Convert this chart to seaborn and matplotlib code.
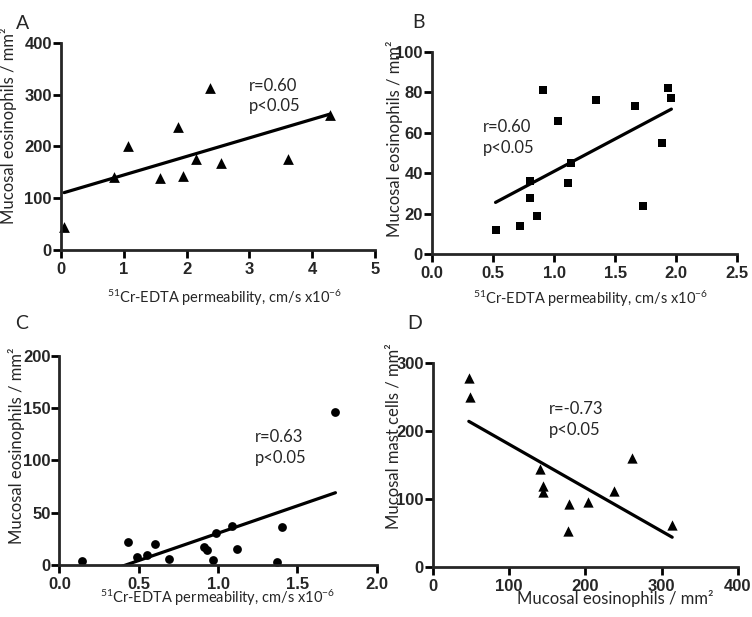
import numpy as np
import pandas as pd
import matplotlib
matplotlib.use("Agg")
import matplotlib.pyplot as plt
import seaborn as sns

# values
# A: permeability vs mucosal eosinophils (triangles)
a_perm = [0.05, 0.85, 1.06, 1.57, 1.87, 1.95, 2.15, 2.37, 2.54, 3.62, 4.28]
a_eos = [45, 141, 201, 138, 237, 143, 175, 313, 168, 176, 260]

# B: permeability vs mucosal eosinophils (squares)
b_perm = [0.52, 0.72, 0.80, 0.80, 0.86, 0.91, 1.03, 1.11, 1.14,
          1.34, 1.66, 1.73, 1.88, 1.93, 1.96]
b_eos = [12, 14, 36, 28, 19, 81, 66, 35, 45, 76, 73, 24, 55, 82, 77]

# C: permeability vs mucosal eosinophils (circles)
c_perm = [0.14, 0.43, 0.49, 0.55, 0.60, 0.69, 0.91, 0.93, 0.97, 0.99,
          1.09, 1.12, 1.37, 1.40, 1.74]
c_eos = [4, 22, 8, 10, 20, 6, 17, 14, 5, 31, 37, 15, 3, 36, 146]

# D: mucosal eosinophils vs mucosal mast cells (triangles)
d_eos = [47, 49, 141, 144, 145, 177, 178, 203, 238, 261, 314]
d_mast = [278, 250, 144, 119, 110, 52, 92, 96, 111, 161, 62]

stats_text = [("r=0.60", "p<0.05"), ("r=0.60", "p<0.05"),
              ("r=0.63", "p<0.05"), ("r=-0.73", "p<0.05")]

perm_label = r"$\mathregular{^{51}}$Cr-EDTA permeability, cm/s x10$\mathregular{^{-6}}$"
eos_label = "Mucosal eosinophils / mm²"
mast_label = "Mucosal mast cells / mm²"

sns.set_style("ticks")
# tick labels take the global default: bold Arial-like
plt.rcParams["font.family"] = ["Liberation Sans", "DejaVu Sans"]
plt.rcParams["font.weight"] = "bold"
plt.rcParams["xtick.labelsize"] = 12
plt.rcParams["ytick.labelsize"] = 12
plt.rcParams["mathtext.fontset"] = "custom"
plt.rcParams["mathtext.rm"] = "Lato"
plt.rcParams["axes.linewidth"] = 2.0

# everything else is in a Calibri-like regular face
txt_font = dict(fontfamily=["Lato", "DejaVu Sans"], fontweight="normal")

fig = plt.figure(figsize=(7.52, 6.17), dpi=100)

panels = [
    dict(letter="A", x=a_perm, y=a_eos, marker="^", s=60,
         rect=[0.0811, 0.5948, 0.4176, 0.336], xlim=(0, 5), xticks=np.arange(0, 6, 1),
         ylim=(0, 400), yticks=np.arange(0, 401, 100), xfmt="{:.0f}",
         txt=(2.99, 317, 277), xlabel=perm_label, ylabel=eos_label, xfs=10.5,
         xl=(0.522, -0.23), yl=(-0.166, 0.598), lpos=(0.030, 0.975)),
    dict(letter="B", x=b_perm, y=b_eos, marker="s", s=40,
         rect=[0.5745, 0.5878, 0.406, 0.3284], xlim=(0, 2.5), xticks=np.arange(0, 2.51, 0.5),
         ylim=(0, 100), yticks=np.arange(0, 101, 20), xfmt="{:.1f}",
         txt=(0.42, 62.7, 52.3), xlabel=perm_label, ylabel=eos_label, xfs=10.5,
         xl=(0.518, -0.22), yl=(-0.124, 0.569), lpos=(0.557, 0.978)),
    dict(letter="C", x=c_perm, y=c_eos, marker="o", s=40,
         rect=[0.0791, 0.0843, 0.4218, 0.3387], xlim=(0, 2.0), xticks=np.arange(0, 2.01, 0.5),
         ylim=(0, 200), yticks=np.arange(0, 201, 50), xfmt="{:.1f}",
         txt=(1.233, 122.8, 102.7), xlabel=perm_label, ylabel=eos_label, xfs=10.5,
         xl=(0.497, -0.158), yl=(-0.134, 0.569), lpos=(0.029, 0.489)),
    dict(letter="D", x=d_eos, y=d_mast, marker="^", s=55,
         rect=[0.5758, 0.0815, 0.4052, 0.3297], xlim=(0, 400), xticks=np.arange(0, 401, 100),
         ylim=(0, 300), yticks=np.arange(0, 301, 100), xfmt="{:.0f}",
         txt=(152, 232.6, 201.6), xlabel=eos_label, ylabel=mast_label, xfs=12,
         xl=(0.597, -0.155), yl=(-0.128, 0.643), lpos=(0.552, 0.489)),
]

for p, (r_txt, p_txt) in zip(panels, stats_text):
    ax = fig.add_axes(p["rect"])
    df = pd.DataFrame({"x": p["x"], "y": p["y"]})
    sns.regplot(data=df, x="x", y="y", ax=ax, ci=None, truncate=True,
                marker=p["marker"], color="black",
                scatter_kws=dict(s=p["s"], linewidths=0, clip_on=False, alpha=1),
                line_kws=dict(linewidth=2.3, color="black"))
    ax.set_xlim(p["xlim"])
    ax.set_ylim(p["ylim"])
    ax.tick_params(direction="out", length=5.5, width=2.0, color="black")
    ax.tick_params(axis="y", pad=1)
    ax.tick_params(axis="x", pad=3)
    ax.set_xticks(p["xticks"], labels=[p["xfmt"].format(v) for v in p["xticks"]])
    ax.set_yticks(p["yticks"], labels=[f"{v:.0f}" for v in p["yticks"]])
    sns.despine(ax=ax)
    for sp in ["left", "bottom"]:
        ax.spines[sp].set_linewidth(2.0)

    ax.set_xlabel(p["xlabel"], fontsize=p["xfs"], va="center", **txt_font)
    ax.set_ylabel(p["ylabel"], fontsize=12, va="center", **txt_font)
    ax.xaxis.set_label_coords(*p["xl"])
    ax.yaxis.set_label_coords(*p["yl"])

    tx, ty_r, ty_p = p["txt"]
    ax.text(tx, ty_r, r_txt, fontsize=12, va="center", ha="left", **txt_font)
    ax.text(tx, ty_p, p_txt, fontsize=12, va="center", ha="left", **txt_font)

    fig.text(p["lpos"][0], p["lpos"][1], p["letter"], fontsize=14,
             ha="center", va="top", **txt_font)

fig.savefig("out.png", dpi=100)
